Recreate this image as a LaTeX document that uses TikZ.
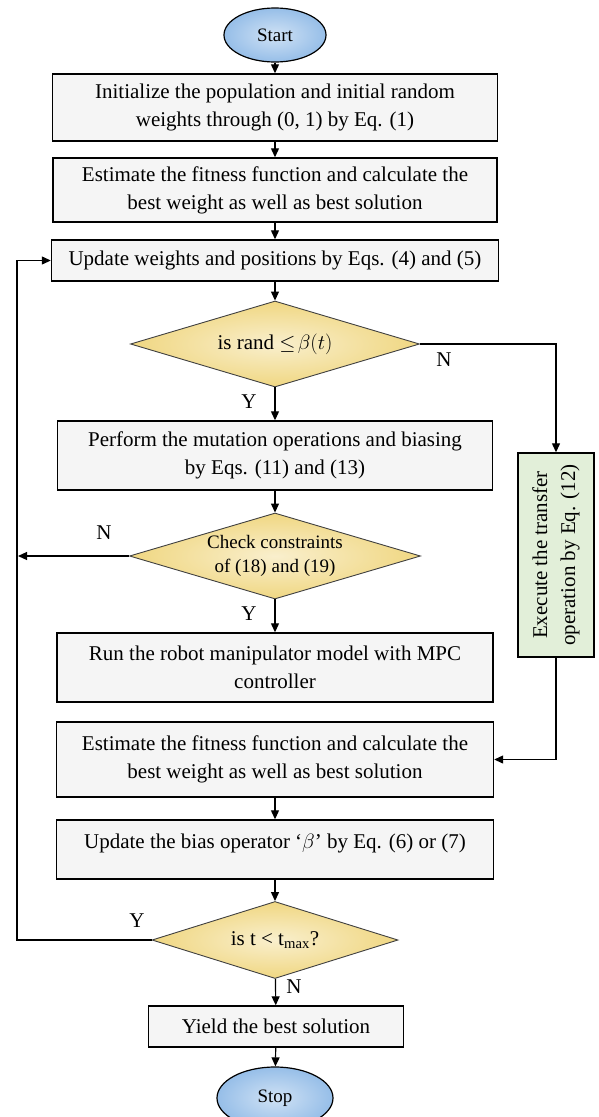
\documentclass[tikz,border=0pt]{standalone}
\usepackage{fontspec}
\setmainfont{Liberation Serif}
\usetikzlibrary{shapes.geometric,arrows.meta}
\definecolor{boxgray}{RGB}{245,245,245}
\definecolor{termblue}{RGB}{150,190,232}
\definecolor{decyellow}{RGB}{240,215,130}
\definecolor{transgreen}{RGB}{226,239,217}
\tikzset{
  procbox/.style={draw, line width=1.4pt, fill=boxgray, align=center, inner sep=2pt,
    font=\fontsize{21}{28}\selectfont},
  termnode/.style={ellipse, draw, line width=1.2pt, inner color=termblue!45, outer color=termblue,
    inner sep=0pt, font=\fontsize{19}{22}\selectfont},
  decnode/.style={diamond, draw=black!75, line width=0.9pt, inner color=decyellow!40, outer color=decyellow,
    inner sep=0pt, aspect=3.4, align=center, font=\fontsize{21}{24}\selectfont},
  flow/.style={line width=1.2pt, -{Triangle[length=9pt,width=8pt]}},
  lbl/.style={font=\fontsize{21}{24}\selectfont}
}
\begin{document}
\begin{tikzpicture}[x=1pt, y=-1pt]
    \useasboundingbox (0,0) rectangle (599,1117);

    % main column
    \node[termnode, minimum width=102, minimum height=54] (start) at (275,35) {Start};
    \node[procbox, minimum width=445, minimum height=67] (init) at (275,107.5)
        {Initialize the population and initial random\\ weights through (0, 1) by Eq. (1)};
    \node[procbox, minimum width=444, minimum height=64] (fit1) at (275,190)
        {Estimate the fitness function and calculate the\\ best weight as well as best solution};
    \node[procbox, minimum width=447, minimum height=41] (upd) at (275,260.5)
        {Update weights and positions by Eqs. (4) and (5)};
    \node[decnode, minimum width=289, minimum height=86] (rand) at (275,344)
        {is rand $\leq\!\beta(t)$};
    \node[procbox, minimum width=435, minimum height=69] (mut) at (275,455.5)
        {Perform the mutation operations and biasing\\ by Eqs. (11) and (13)};
    \node[decnode, minimum width=291, minimum height=86, font=\fontsize{19}{24}\selectfont] (cons) at (275,556)
        {Check constraints\\ of (18) and (19)};
    \node[procbox, minimum width=436, minimum height=69] (mpc) at (275,667.5)
        {Run the robot manipulator model with MPC\\ controller};
    \node[procbox, minimum width=437, minimum height=75] (fit2) at (275,759.5)
        {Estimate the fitness function and calculate the\\ best weight as well as best solution};
    \node[procbox, minimum width=437, minimum height=59] (bias) at (275,849.5)
        {Update the bias operator `$\beta$' by Eq. (6) or (7)\\[-12pt]\mbox{}};
    \node[decnode, minimum width=246, minimum height=77] (tmax) at (275,940)
        {is t < t\textsubscript{max}?};
    \node[procbox, minimum width=255, minimum height=41] (yield) at (276,1026.5)
        {Yield the best solution};
    \node[termnode, minimum width=116, minimum height=62] (stop) at (275,1098) {Stop};

    % transfer branch
    \node[procbox, fill=transgreen, rotate=90, minimum width=204, minimum height=76] (trans) at (556,555)
        {Execute the transfer\\ operation by Eq. (12)};

    % loop-back points
    \coordinate (consL) at (18,556);
    \coordinate (tmaxL) at (17,940);

    % connectors
    \draw[flow] (start) -- (init);
    \draw[flow] (init) -- (fit1);
    \draw[flow] (fit1) -- (upd);
    \draw[flow] (upd) -- (rand);
    \draw[flow] (rand) -- (mut);
    \draw[flow] (mut) -- (cons);
    \draw[flow] (cons) -- (mpc);
    \draw[flow] (fit2) -- (bias);
    \draw[flow] (bias) -- (tmax);
    \draw[flow] (tmax) -- (yield);
    \draw[flow] (yield) -- (stop);
    \draw[flow] (rand.east) -| (trans.east);
    \draw[flow] (trans.west) |- (fit2.east);
    \draw[flow] (cons.west) -- (consL);
    \draw[flow] (tmax.west) -- (tmaxL) |- (upd.west);

    % branch labels
    \node[lbl] (randN) at (444,360) {N};
    \node[lbl] (randY) at (249,402) {Y};
    \node[lbl] (consN) at (104,533) {N};
    \node[lbl] (consY) at (249,614) {Y};
    \node[lbl] (tmaxY) at (137,921) {Y};
    \node[lbl] (tmaxN) at (294,987) {N};
\end{tikzpicture}
\end{document}
